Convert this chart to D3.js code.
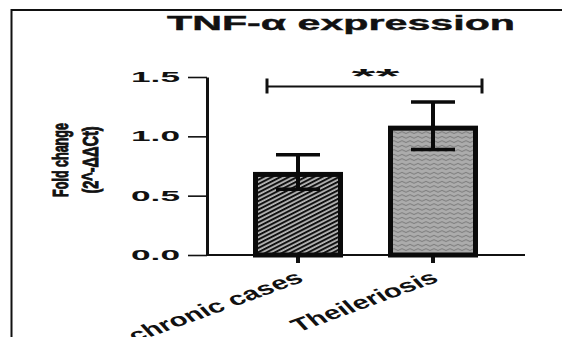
<!DOCTYPE html>
<html><head><meta charset="utf-8">
<script src="https://cdn.jsdelivr.net/npm/d3@7"></script>
<style>html,body{margin:0;padding:0;background:#fff}svg{display:block}</style>
</head><body>
<script>
const categories = ["chronic cases", "Theileriosis"];
const means = [0.70, 1.09];
const errors = [0.145, 0.20];
const yTicks = [0, 0.5, 1.0, 1.5];
const yTickLabels = ["0.0", "0.5", "1.0", "1.5"];
const sigLevel = [1.42];
const sigLabel = ["**"];
const titleText = "TNF-\u03B1 expression";
const yLabelLines = ["Fold change", "(2^-\u0394\u0394Ct)"];

const W = 562, H = 337;
const svg = d3.select("body").append("svg").attr("width", W).attr("height", H);
const defs = svg.append("defs");
const FONT = "Liberation Sans, Arial, sans-serif";

// stripes pattern
const p1 = defs.append("pattern").attr("id", "stripes").attr("patternUnits", "userSpaceOnUse")
  .attr("width", 8).attr("height", 3.8).attr("patternTransform", "rotate(-27)");
p1.append("rect").attr("width", 8).attr("height", 3.8).attr("fill", "#111");
p1.append("rect").attr("y", 1.3).attr("width", 8).attr("height", 1.3).attr("fill", "#f4f4f4");

// wave pattern
const p2 = defs.append("pattern").attr("id", "waves").attr("patternUnits", "userSpaceOnUse")
  .attr("width", 8).attr("height", 4.5);
p2.append("rect").attr("width", 8).attr("height", 4.5).attr("fill", "#acacac");
p2.append("path").attr("d", "M0,2.2 q2,-1.8 4,0 t4,0").attr("fill", "none").attr("stroke", "#6e6e6e").attr("stroke-width", 0.9);
const fills = ["url(#stripes)", "url(#waves)"];

// frame
svg.append("line").attr("x1", 11.5).attr("x2", W).attr("y1", 10).attr("y2", 10).attr("stroke", "#111").attr("stroke-width", 2);
svg.append("line").attr("x1", 11.5).attr("x2", 11.5).attr("y1", 9).attr("y2", H).attr("stroke", "#111").attr("stroke-width", 2);

const y = d3.scaleLinear().domain([0, 1.5]).range([255, 77]);
const x = d3.scaleBand().domain(categories).range([208, 523]).paddingInner(1/3).paddingOuter(1/3);
const bw = x.bandwidth();

// title
svg.append("text").attr("x", 167).attr("y", 30).attr("font-family", FONT)
  .attr("font-weight", "bold").attr("font-size", 21).attr("textLength", 348).attr("lengthAdjust", "spacingAndGlyphs")
  .attr("fill", "#111").attr("stroke", "#111").attr("stroke-width", 0.4).text(titleText);

// y axis
const yAxis = svg.append("g").attr("transform", "translate(207,0)")
  .call(d3.axisLeft(y).tickValues(yTicks).tickFormat((d, i) => yTickLabels[i]).tickSize(19).tickSizeOuter(0).tickPadding(8));
yAxis.select(".domain").attr("stroke", "#111").attr("stroke-width", 3);
yAxis.selectAll(".tick line").attr("stroke", "#111").attr("stroke-width", 1.6);
yAxis.selectAll(".tick text").attr("font-family", FONT).attr("font-weight", "bold")
  .attr("font-size", 14).attr("fill", "#111").attr("textLength", 49).attr("lengthAdjust", "spacingAndGlyphs");

// x axis
const xAxis = svg.append("g").attr("transform", "translate(0,255)")
  .call(d3.axisBottom(x).tickSize(8).tickSizeOuter(0).tickFormat(""));
xAxis.select(".domain").attr("d", "M207,0H525").attr("stroke", "#111").attr("stroke-width", 2);
xAxis.selectAll(".tick line").attr("stroke", "#111").attr("stroke-width", 4);

// x labels (rotated, horizontally stretched like the reference)
svg.selectAll(".xlab").data(categories).enter().append("text")
  .attr("class", "xlab")
  .attr("transform", d => `translate(${x(d) + bw / 2 + 7},281) scale(1.59,1) rotate(-30)`)
  .attr("text-anchor", "end").attr("font-family", FONT).attr("font-weight", "bold")
  .attr("font-size", 18.5).attr("fill", "#111")
  .text(d => d);

// bars
svg.selectAll(".bar").data(means).enter().append("rect")
  .attr("x", (d, i) => x(categories[i]) + 2.5)
  .attr("y", d => y(d) + 2.5)
  .attr("width", bw - 5)
  .attr("height", d => y(0) - y(d) - 2.5)
  .attr("fill", (d, i) => fills[i]).attr("stroke", "#0a0a0a").attr("stroke-width", 5);

// error bars
const eb = svg.selectAll(".eb").data(means).enter().append("g");
eb.append("line").attr("x1", (d, i) => x(categories[i]) + bw / 2).attr("x2", (d, i) => x(categories[i]) + bw / 2)
  .attr("y1", (d, i) => y(d + errors[i])).attr("y2", (d, i) => y(d - errors[i])).attr("stroke", "#0a0a0a").attr("stroke-width", 4);
eb.append("line").attr("x1", (d, i) => x(categories[i]) + bw / 2 - 22).attr("x2", (d, i) => x(categories[i]) + bw / 2 + 22)
  .attr("y1", (d, i) => y(d + errors[i])).attr("y2", (d, i) => y(d + errors[i])).attr("stroke", "#0a0a0a").attr("stroke-width", 3.5);
eb.append("line").attr("x1", (d, i) => x(categories[i]) + bw / 2 - 22).attr("x2", (d, i) => x(categories[i]) + bw / 2 + 22)
  .attr("y1", (d, i) => y(d - errors[i])).attr("y2", (d, i) => y(d - errors[i])).attr("stroke", "#0a0a0a").attr("stroke-width", 3.5);

// significance bracket
const bx1 = x(categories[0]) + 14, bx2 = x(categories[1]) + bw + 4, by = y(sigLevel[0]);
svg.append("line").attr("x1", bx1).attr("x2", bx2).attr("y1", by).attr("y2", by).attr("stroke", "#111").attr("stroke-width", 2);
[bx1, bx2].forEach(bx => svg.append("line").attr("x1", bx).attr("x2", bx).attr("y1", by - 8).attr("y2", by + 7)
  .attr("stroke", "#111").attr("stroke-width", 3));
svg.append("text").attr("x", (bx1 + bx2) / 2 + 1).attr("y", by - 3).attr("text-anchor", "middle")
  .attr("font-family", FONT).attr("font-weight", "bold").attr("font-size", 20)
  .attr("textLength", 48).attr("lengthAdjust", "spacingAndGlyphs").attr("fill", "#111").text(sigLabel[0]);

// y label (bold, condensed along its length)
const ylScale = [0.57, 0.66];
svg.selectAll(".ylab").data(yLabelLines).enter().append("text")
  .attr("class", "ylab")
  .attr("transform", (d, i) => `translate(${i === 0 ? 68 : 98},160) rotate(-90) scale(${ylScale[i]},1)`)
  .attr("text-anchor", "middle").attr("font-family", FONT).attr("font-weight", "bold")
  .attr("font-size", 22).attr("fill", "#111").attr("stroke", "#111").attr("stroke-width", 1)
  .text(d => d);
</script>
</body></html>
